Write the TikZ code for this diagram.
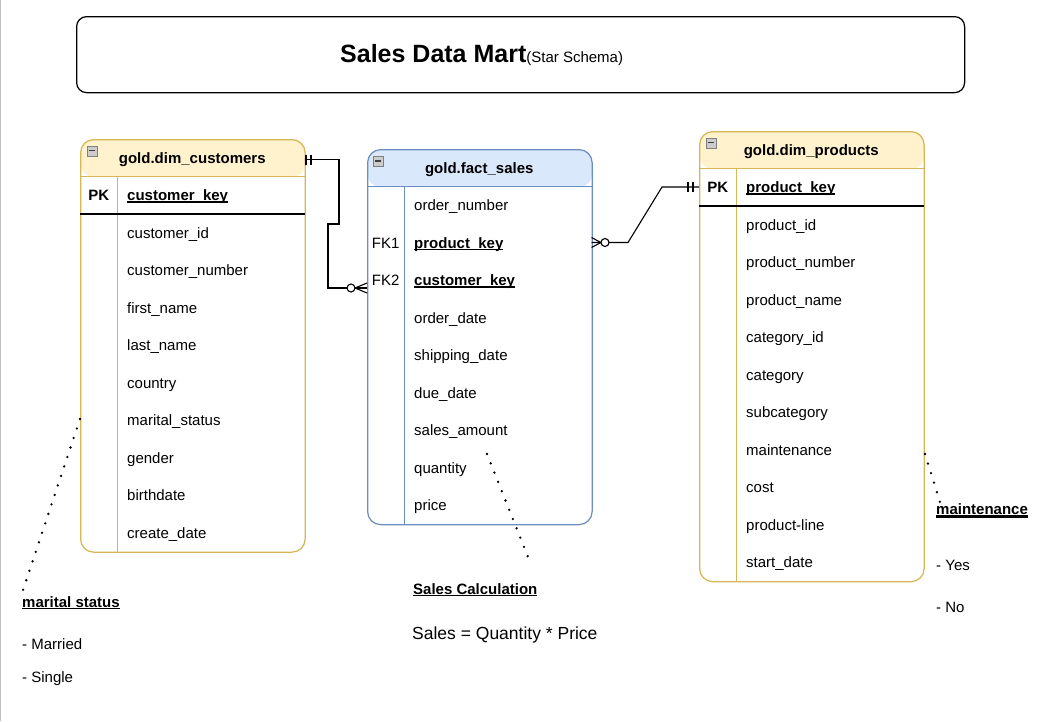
\documentclass[tikz,border=0pt]{standalone}
\usepackage{fontspec}
\setmainfont{Liberation Sans}
\definecolor{yfill}{HTML}{FFF2CC}
\definecolor{ystroke}{HTML}{D6B656}
\definecolor{bfill}{HTML}{DAE8FC}
\definecolor{bstroke}{HTML}{6C8EBF}
\newcommand{\ulx}[3]{\setbox0=\hbox{#3}\leavevmode\rlap{\rule[#1]{\wd0}{#2}}\box0}
\newcommand{\kul}[1]{\ulx{-2pt}{1.2pt}{#1}}
\begin{document}
\begin{tikzpicture}[x=1pt,y=-1pt,
  txt/.style={anchor=west, inner sep=0pt, text height=10.7pt, text depth=0pt, font=\fontsize{15}{18}\selectfont},
  btxt/.style={txt, font=\fontsize{15}{18}\selectfont\bfseries},
  ctxt/.style={txt, anchor=center},
  cbtxt/.style={btxt, anchor=center},
  tbl/.style 2 args={draw=#1, fill=white, line width=1.25pt, rounded corners=13pt, inner sep=0pt, anchor=north west,
     path picture={\fill[#2] (path picture bounding box.north west) rectangle ([yshift=-37.5pt]path picture bounding box.north east);}},
  icon/.style={draw=black!50, fill=black!20, line width=0.8pt, minimum width=10pt, minimum height=10pt, inner sep=0pt, anchor=north west},
  conn/.style={draw=black, line width=1.1pt},
  dots/.style={draw=black, line width=2.6pt, line cap=round, dash pattern=on 0pt off 10pt}]
\useasboundingbox (0,0) rectangle (1047,721);
\fill[white] (0,0) rectangle (1047,721);
\draw[black!25, line width=1pt] (0.5,0) -- (0.5,721);

% title
\node[draw=black, line width=1.25pt, rounded corners=10pt, minimum width=888pt, minimum height=76pt, inner sep=0pt, anchor=north west] (tbox) at (76,16) {};
\node[anchor=base west, inner sep=0pt] (title) at (340,62) {{\fontsize{25}{30}\selectfont\bfseries Sales Data Mart}{\fontsize{15}{18}\selectfont(Star Schema)}};

% ---------- customers ----------
\node[tbl={ystroke}{yfill}, minimum width=224.5pt, minimum height=412.5pt] (cust) at (80,139) {};
\draw[ystroke, line width=1.25pt] (80,176.5) -- (304.5,176.5);
\draw[ystroke, line width=1.25pt] (117.5,176.5) -- (117.5,551.5);
\draw[black, line width=1.5pt] (80,214) -- (304.5,214);
\node[icon] (custI) at (86.5,145.5) {};
\draw[black!75, line width=1.3pt] (88.5,150.5) -- (94.5,150.5);
\node[cbtxt] (custH) at (192.25,158) {gold.dim\_customers};
\node[cbtxt] (custPK) at (98.75,195.25) {PK};
\node[btxt] (custK) at (127,195.25) {\kul{customer\_key}};
\foreach \t [count=\i] in {customer\_id, customer\_number, first\_name, last\_name, country, marital\_status, gender, birthdate, create\_date}
  \node[txt] (c\i) at (127,{232.75+37.5*(\i-1)}) {\t};

% ---------- fact ----------
\node[tbl={bstroke}{bfill}, minimum width=224.5pt, minimum height=375pt] (fact) at (367,149) {};
\draw[bstroke, line width=1.25pt] (367,186.5) -- (591.5,186.5);
\draw[bstroke, line width=1.25pt] (404.5,186.5) -- (404.5,524);
\node[icon] (factI) at (373,156) {};
\draw[black!75, line width=1.3pt] (375,161) -- (381,161);
\node[cbtxt] (factH) at (479.25,168) {gold.fact\_sales};
\node[ctxt] (fk1) at (385.75,242.75) {FK1};
\node[ctxt] (fk2) at (385.75,280.25) {FK2};
\foreach \t [count=\i] in {order\_number, {\bfseries\kul{product\_key}}, {\bfseries\kul{customer\_key}}, order\_date, shipping\_date, due\_date, sales\_amount, quantity, price}
  \node[txt] (f\i) at (414,{205.25+37.5*(\i-1)}) {\t};

% ---------- products ----------
\node[tbl={ystroke}{yfill}, minimum width=224.5pt, minimum height=450pt] (prod) at (699,131) {};
\draw[ystroke, line width=1.25pt] (699,168.5) -- (923.5,168.5);
\draw[ystroke, line width=1.25pt] (736.5,168.5) -- (736.5,581);
\draw[black, line width=1.5pt] (699,206) -- (923.5,206);
\node[icon] (prodI) at (705.5,137.5) {};
\draw[black!75, line width=1.3pt] (707.5,142.5) -- (713.5,142.5);
\node[cbtxt] (prodH) at (811.25,150) {gold.dim\_products};
\node[cbtxt] (prodPK) at (717.75,187.25) {PK};
\node[btxt] (prodK) at (746,187.25) {\kul{product\_key}};
\foreach \t [count=\i] in {product\_id, product\_number, product\_name, category\_id, category, subcategory, maintenance, cost, product-line, start\_date}
  \node[txt] (p\i) at (746,{224.75+37.5*(\i-1)}) {\t};

% ---------- connectors ----------
\coordinate (custC) at (304.5,159.5);
\coordinate (factC) at (367,288);
\coordinate (factP) at (591.5,242.5);
\coordinate (prodP) at (699,187);

\draw[conn] (custC) -- (339,159.5) -- (339,224) -- (328,224) -- (328,288) -- (factC);
\draw[conn] (306,154.5) -- (306,164.5) (311,154.5) -- (311,164.5);
\draw[conn] (355,288) -- (367,283) (355,288) -- (367,293);
\draw[conn, fill=white] (351,288) circle (4pt);

\draw[conn] (factP) -- (628,242.5) -- (662,187) -- (prodP);
\draw[conn] (601,242.5) -- (591.5,237.5) (601,242.5) -- (591.5,247.5);
\draw[conn, fill=white] (605,242.5) circle (4pt);
\draw[conn] (688,182) -- (688,192) (693,182) -- (693,192);

% ---------- annotations ----------
\node[btxt] (msT) at (22,602) {\kul{marital status}};
\node[txt] (ms1) at (22,644) {- Married};
\node[txt] (ms2) at (22,677) {- Single};
\coordinate (msA) at (80,419);
\coordinate (msB) at (20,599);
\draw[dots] (msA) -- (msB);

\node[btxt] (scT) at (413,589) {\kul{Sales Calculation}};
\node[txt, text height=12.5pt, font=\fontsize{17.5}{21}\selectfont] (scF) at (412,633) {Sales = Quantity * Price};
\coordinate (scA) at (487,454);
\coordinate (scB) at (528,557);
\draw[dots] (scA) -- (scB);

\node[btxt] (mtT) at (936,509) {\ulx{-4pt}{3pt}{maintenance}};
\node[txt] (mt1) at (936,565) {- Yes};
\node[txt] (mt2) at (936,607) {- No};
\coordinate (mtA) at (925,454);
\coordinate (mtB) at (940,502);
\draw[dots] (mtA) -- (mtB);
\end{tikzpicture}
\end{document}
